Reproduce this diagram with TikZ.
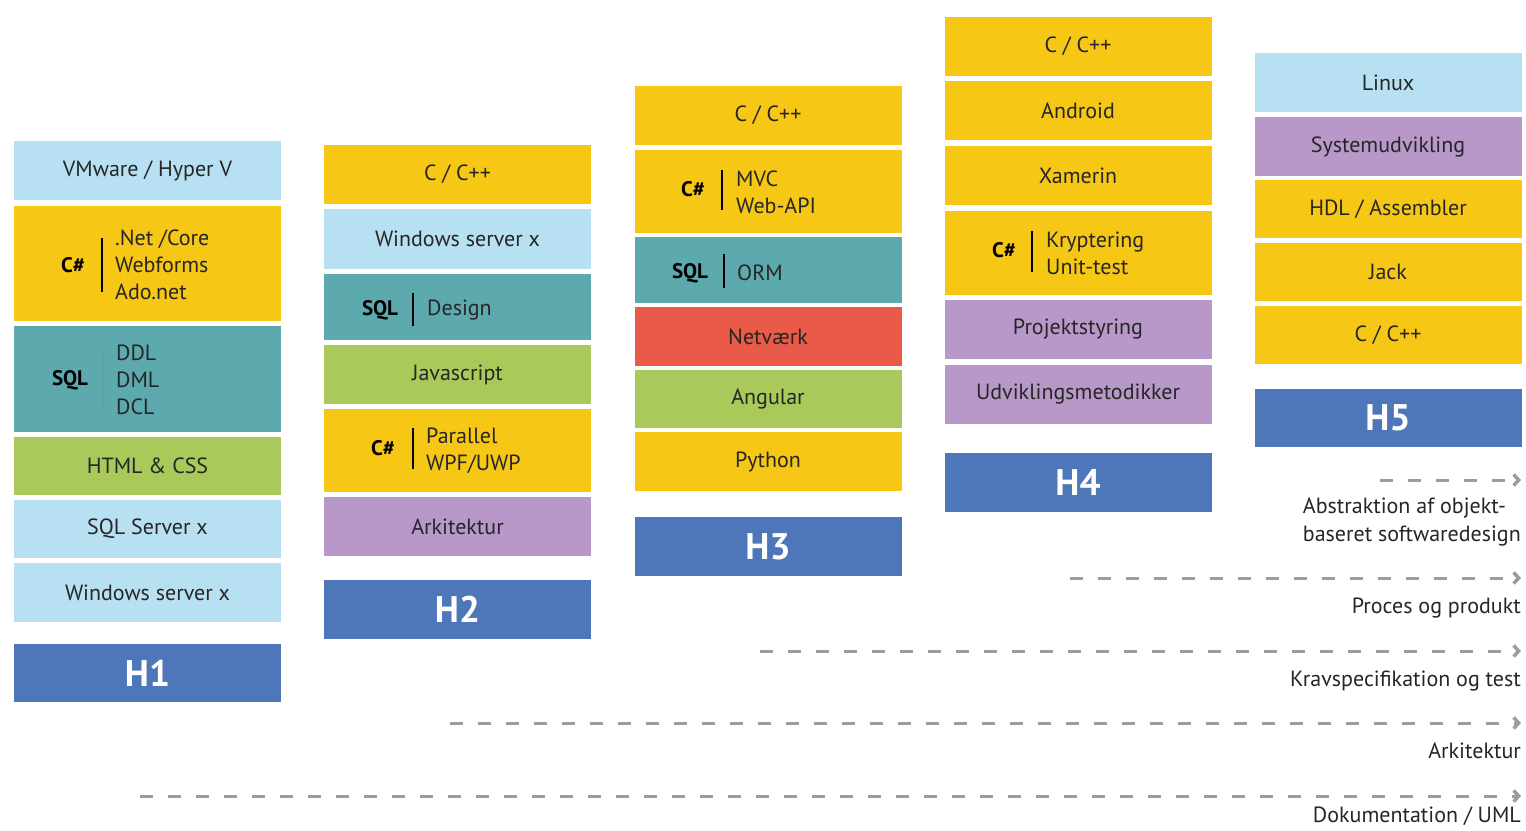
\documentclass[tikz,border=0pt]{standalone}
\usepackage{fontspec}
\setmainfont{PT Sans}
\usetikzlibrary{positioning,arrows.meta}

\definecolor{gul}{HTML}{F7C716}
\definecolor{lysblaa}{HTML}{B7E0F2}
\definecolor{petrol}{HTML}{5CA9AE}
\definecolor{groen}{HTML}{A9C95B}
\definecolor{lilla}{HTML}{B898C9}
\definecolor{roed}{HTML}{E95A48}
\definecolor{hblaa}{HTML}{4E77BA}
\definecolor{pil}{HTML}{9C9C9C}

\tikzset{
    felt/.style={minimum width=267, minimum height=59, inner sep=0, text=black!85,
                 font=\fontsize{22}{27}\selectfont},
    semester/.style={felt, fill=hblaa, text=white, font=\fontsize{37}{37}\selectfont\bfseries},
    sprog/.style={inner sep=0, font=\fontsize{21}{27}\selectfont\bfseries, text=black},
    emner/.style={inner sep=0, anchor=west, align=left, text=black!85,
                  font=\fontsize{22}{27}\selectfont},
    tidslinje/.style={draw=pil, line width=3, dash pattern=on 13pt off 15pt,
                      -{Straight Barb[length=5pt,width=11pt,line width=3.5pt]}},
    forklaring/.style={inner sep=0, anchor=north east, align=left, text=black!85,
                       font=\fontsize{22}{28}\selectfont},
}

\begin{document}
\begin{tikzpicture}[x=1pt, y=-1pt]
    \useasboundingbox (0,0) rectangle (1526,830);

    % H1
    \node[felt, fill=lysblaa] (vmware) at (147.5,170.5) {VMware / Hyper V};
    \node[felt, fill=gul, minimum height=115] (csA) at (147.5,263.5) {};
    \node[sprog] (csAtag) at (73,265) {C\#};
    \node[emner] (csAtxt) at (115,265) {.Net /Core\\Webforms\\Ado.net};
    \draw[line width=1.5] (102,238) -- (102,292);
    \node[felt, fill=petrol, minimum height=106] (sqlA) at (147.5,379) {};
    \node[sprog] (sqlAtag) at (70,380) {SQL};
    \node[emner] (sqlAtxt) at (116,380) {DDL\\DML\\DCL};
    \draw[line width=1, black!45] (103,353) -- (103,405);
    \node[felt, fill=groen, minimum height=58] (html) at (147.5,466) {HTML \& CSS};
    \node[felt, fill=lysblaa, minimum height=58] (sqlserver) at (147.5,529) {SQL Server x};
    \node[felt, fill=lysblaa] (winA) at (147.5,592.5) {Windows server x};
    \node[semester, minimum height=58] (h1) at (147.5,673) {H1};

    % H2
    \node[felt, fill=gul] (ccB) at (457.5,174.5) {C / C++};
    \node[felt, fill=lysblaa, minimum height=60] (winB) at (457.5,239) {Windows server x};
    \node[felt, fill=petrol, minimum height=66] (sqlB) at (457.5,307) {};
    \node[sprog] (sqlBtag) at (380,310) {SQL};
    \node[emner] (sqlBtxt) at (427,310) {Design};
    \draw[line width=1.5] (413,293) -- (413,326);
    \node[felt, fill=groen] (js) at (457.5,374.5) {Javascript};
    \node[felt, fill=gul, minimum height=83] (csB) at (457.5,450.5) {};
    \node[sprog] (csBtag) at (383,448) {C\#};
    \node[emner] (csBtxt) at (426,450.5) {Parallel\\WPF/UWP};
    \draw[line width=1.5] (413,428) -- (413,469);
    \node[felt, fill=lilla] (arkB) at (457.5,526.5) {Arkitektur};
    \node[semester] (h2) at (457.5,609.5) {H2};

    % H3
    \node[felt, fill=gul] (ccC) at (768,115.5) {C / C++};
    \node[felt, fill=gul, minimum height=83] (csC) at (768,191.5) {};
    \node[sprog] (csCtag) at (693,189) {C\#};
    \node[emner] (csCtxt) at (736,192) {MVC\\Web-API};
    \draw[line width=1.5] (722,170) -- (722,210);
    \node[felt, fill=petrol, minimum height=66] (sqlC) at (768,270) {};
    \node[sprog] (sqlCtag) at (690,273) {SQL};
    \node[emner] (sqlCtxt) at (737,273) {ORM};
    \draw[line width=1.5] (724,254) -- (724,288);
    \node[felt, fill=roed] (net) at (768,336.5) {Netværk};
    \node[felt, fill=groen, minimum height=58] (angular) at (768,399) {Angular};
    \node[felt, fill=gul] (python) at (768,461.5) {Python};
    \node[semester] (h3) at (768,546.5) {H3};

    % H4
    \node[felt, fill=gul] (ccD) at (1078,46.5) {C / C++};
    \node[felt, fill=gul] (android) at (1078,110.5) {Android};
    \node[felt, fill=gul] (xamerin) at (1078,175.5) {Xamerin};
    \node[felt, fill=gul, minimum height=84] (csD) at (1078,253) {};
    \node[sprog] (csDtag) at (1004,250) {C\#};
    \node[emner] (csDtxt) at (1046,253.5) {Kryptering\\Unit-test};
    \draw[line width=1.5] (1032,231) -- (1032,272);
    \node[felt, fill=lilla] (projekt) at (1078,329.5) {Projektstyring};
    \node[felt, fill=lilla] (metodik) at (1078,394.5) {Udviklingsmetodikker};
    \node[semester] (h4) at (1078,482.5) {H4};

    % H5
    \node[felt, fill=lysblaa] (linux) at (1388,82.5) {Linux};
    \node[felt, fill=lilla] (sysudv) at (1388,146.5) {Systemudvikling};
    \node[felt, fill=gul, minimum height=58] (hdl) at (1388,209) {HDL / Assembler};
    \node[felt, fill=gul, minimum height=58] (jack) at (1388,272) {Jack};
    \node[felt, fill=gul, minimum height=58] (ccE) at (1388,335) {C / C++};
    \node[semester, minimum height=58] (h5) at (1388,418) {H5};

    % tidslinjer
    \coordinate (abstStart) at (1380,480);
    \coordinate (abstSlut) at (1521,480);
    \coordinate (procStart) at (1070,578);
    \coordinate (procSlut) at (1521,578);
    \coordinate (kravStart) at (760,651);
    \coordinate (kravSlut) at (1521,651);
    \coordinate (arkStart) at (450,723);
    \coordinate (arkSlut) at (1521,723);
    \coordinate (dokStart) at (140,796);
    \coordinate (dokSlut) at (1521,796);
    \draw[tidslinje] (abstStart) -- (abstSlut);
    \draw[tidslinje] (procStart) -- (procSlut);
    \draw[tidslinje] (kravStart) -- (kravSlut);
    \draw[tidslinje] (arkStart) -- (arkSlut);
    \draw[tidslinje] (dokStart) -- (dokSlut);

    \node[forklaring] (abst) at ([yshift=-18pt]abstSlut) {Abstraktion af objekt-\\baseret softwaredesign};
    \node[forklaring] (proc) at ([yshift=-20pt]procSlut) {Proces og produkt};
    \node[forklaring] (krav) at ([yshift=-20pt]kravSlut) {Kravspecifikation og test};
    \node[forklaring] (ark) at ([yshift=-20pt]arkSlut) {Arkitektur};
    \node[forklaring] (dok) at ([yshift=-11pt]dokSlut) {Dokumentation / UML};
\end{tikzpicture}
\end{document}
